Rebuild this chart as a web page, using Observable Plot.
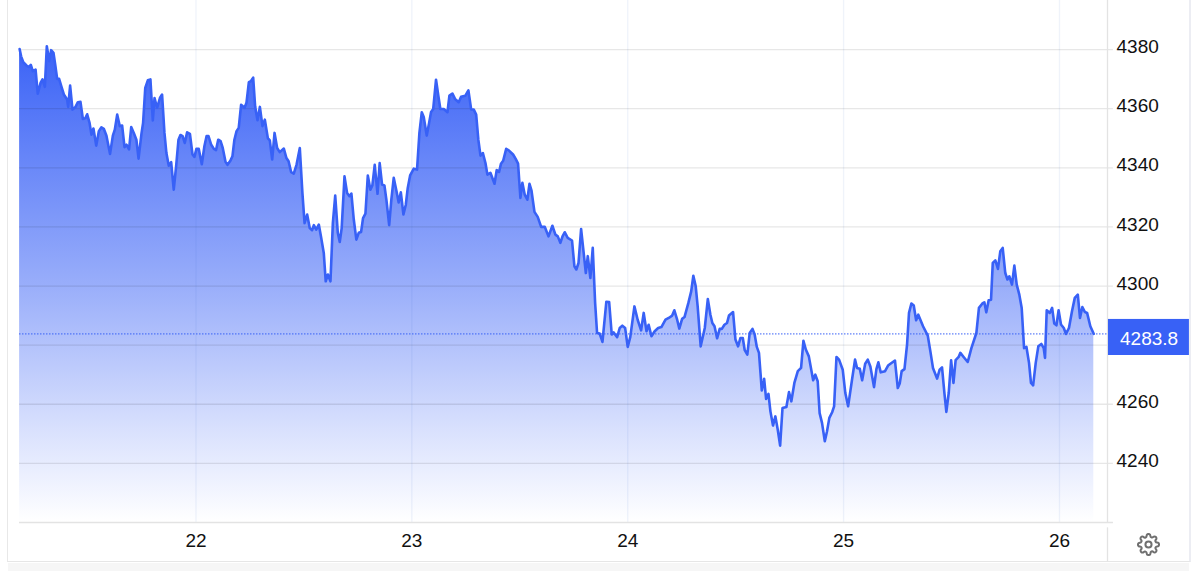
<!DOCTYPE html>
<html>
<head>
<meta charset="utf-8">
<script src="https://cdn.jsdelivr.net/npm/d3@7"></script>
<script src="https://cdn.jsdelivr.net/npm/@observablehq/plot@0.6"></script>
<style>
html,body{margin:0;padding:0;background:#fff;width:1200px;height:571px;overflow:hidden}
#frame{position:absolute;left:7px;top:0;width:1181px;height:561px;background:#fff;border-left:1.5px solid #e8e8e8;border-right:2px solid #ecedf3;border-bottom:1.5px solid #e6e6e6}
#band{position:absolute;left:8px;top:563px;width:1181px;height:8px;background:#f6f6f6}
#chart{position:absolute;left:0;top:0}
#gear{position:absolute;left:1137px;top:533px}
</style>
</head>
<body>
<div id="frame"></div>
<div id="band"></div>
<div id="chart"></div>
<svg id="gear" width="23" height="23" viewBox="0 0 24 24" fill="none" stroke="#6f6f6f" stroke-width="2.1" stroke-linecap="round" stroke-linejoin="round"><circle cx="12" cy="12" r="3.2"/><path d="M19.4 15a1.65 1.65 0 0 0 .33 1.82l.06.06a2 2 0 0 1 0 2.83 2 2 0 0 1-2.83 0l-.06-.06a1.65 1.65 0 0 0-1.82-.33 1.65 1.65 0 0 0-1 1.51V21a2 2 0 0 1-2 2 2 2 0 0 1-2-2v-.09A1.65 1.65 0 0 0 9 19.4a1.65 1.65 0 0 0-1.82.33l-.06.06a2 2 0 0 1-2.83 0 2 2 0 0 1 0-2.83l.06-.06a1.65 1.65 0 0 0 .33-1.82 1.65 1.65 0 0 0-1.51-1H3a2 2 0 0 1-2-2 2 2 0 0 1 2-2h.09A1.65 1.65 0 0 0 4.6 9a1.65 1.65 0 0 0-.33-1.82l-.06-.06a2 2 0 0 1 0-2.83 2 2 0 0 1 2.83 0l.06.06a1.65 1.65 0 0 0 1.82.33H9a1.65 1.65 0 0 0 1-1.51V3a2 2 0 0 1 2-2 2 2 0 0 1 2 2v.09a1.65 1.65 0 0 0 1 1.51 1.65 1.65 0 0 0 1.82-.33l.06-.06a2 2 0 0 1 2.83 0 2 2 0 0 1 0 2.83l-.06.06a1.65 1.65 0 0 0-.33 1.82V9a1.65 1.65 0 0 0 1.51 1H21a2 2 0 0 1 2 2 2 2 0 0 1-2 2h-.09a1.65 1.65 0 0 0-1.51 1z"/></svg>
<script>
const days = [
21.183,21.190,21.200,21.215,21.226,21.235,21.244,21.257,21.267,21.280,21.289,21.300,21.309,21.320,21.329,21.340,21.348,21.357,21.366,21.376,21.388,21.403,21.408,21.417,21.428,21.442,21.453,21.465,21.476,21.488,21.496,21.507,21.516,21.525,21.538,21.550,21.562,21.573,21.585,21.602,21.615,21.624,21.635,21.647,21.658,21.669,21.678,21.690,21.700,21.712,21.724,21.734,21.748,21.755,21.765,21.777,21.789,21.800,21.808,21.820,21.833,21.843,21.854,21.863,21.874,21.885,21.897,21.908,21.919,21.928,21.938,21.948,21.959,21.972,21.984,21.993,
22.002,22.013,22.027,22.039,22.049,22.058,22.070,22.083,22.093,22.103,22.114,22.124,22.137,22.146,22.160,22.169,22.178,22.188,22.198,22.209,22.225,22.234,22.245,22.254,22.265,22.274,22.285,22.296,22.308,22.319,22.333,22.342,22.353,22.364,22.376,22.388,22.407,22.419,22.429,22.441,22.453,22.466,22.481,
22.493,22.503,22.515,22.527,22.538,22.546,22.557,22.569,22.580,22.592,22.601,22.611,22.623,22.634,22.645,22.657,22.666,22.675,22.688,22.700,22.711,22.720,22.731,22.743,22.754,22.765,22.774,22.785,22.796,22.808,22.817,22.828,22.841,22.851,22.862,22.873,22.882,22.895,22.905,22.916,22.929,22.939,22.949,22.961,22.972,22.981,22.992,
23.009,23.024,23.035,23.046,23.055,23.069,23.080,23.089,23.099,23.112,23.123,23.132,23.148,23.165,23.174,23.188,23.200,23.217,23.228,23.248,23.262,23.275,23.287,23.298,23.308,23.318,23.329,23.341,23.350,23.364,23.383,23.393,23.404,23.413,23.423,23.437,23.449,23.469,23.481,23.492,23.503,23.512,23.523,23.535,23.545,23.554,23.568,23.583,23.599,23.616,23.633,23.651,23.665,23.676,23.688,23.698,23.708,23.722,23.742,23.753,23.762,23.772,23.784,23.796,23.806,23.815,23.827,23.838,
23.849,23.858,23.870,23.883,23.901,23.914,23.926,23.935,23.951,23.963,23.975,23.988,24.000,24.012,24.031,24.046,24.062,24.074,24.087,24.097,24.110,24.125,24.141,24.156,24.175,24.190,24.206,24.216,24.229,24.239,24.252,24.263,24.281,24.294,24.304,24.315,24.324,24.338,24.357,24.371,24.383,24.392,24.402,24.414,24.426,24.436,24.448,24.460,24.469,24.488,24.499,24.511,24.522,24.533,24.542,24.554,24.565,24.578,24.588,24.598,24.608,24.615,24.621,24.632,24.641,24.652,24.661,24.673,24.684,24.695,24.706,24.717,24.735,24.747,24.758,24.772,24.788,24.803,24.814,24.825,24.839,24.859,24.869,24.880,24.889,24.900,24.913,24.923,24.934,24.947,24.956,24.967,24.979,24.996,
25.008,25.021,25.039,25.053,25.062,25.075,25.086,25.100,25.112,25.124,25.141,25.152,25.161,25.172,25.192,25.206,25.217,25.238,25.251,25.260,25.269,25.282,25.294,25.303,25.314,25.325,25.336,25.346,25.368,25.390,25.402,25.414,25.433,25.445,25.456,25.467,25.476,25.487,25.498,25.509,25.519,25.533,25.541,25.556,25.575,25.592,25.615,25.627,25.643,25.652,25.661,25.672,25.683,25.691,25.703,25.715,25.726,25.737,25.749,25.759,25.768,25.780,25.791,25.802,25.814,25.825,25.836,25.847,25.859,25.868,25.878,25.890,25.902,25.916,25.927,25.933,25.941,25.955,25.966,25.976,25.986,25.996,
26.007,26.020,26.030,26.044,26.058,26.071,26.085,26.095,26.106,26.118,26.128,26.143,26.159];
const prices = [
4380.2,4377.7,4375.7,4374.6,4374.1,4374.8,4372.7,4373.2,4365.1,4368.7,4369.9,4367.4,4381.1,4376.1,4379.8,4378.9,4374.9,4370.1,4370.1,4367.6,4364.8,4363.1,4360.6,4367.8,4359.7,4360.6,4362.2,4362.3,4356.5,4356.8,4358.1,4355.2,4351.2,4353.3,4347.5,4352.4,4353.7,4353.2,4350.9,4344.7,4350.9,4352.9,4358.0,4354.1,4354.3,4347.0,4347.8,4346.2,4353.8,4351.8,4349.5,4343.1,4351.8,4355.2,4367.0,4369.6,4369.9,4356.0,4363.6,4360.3,4363.6,4364.8,4351.8,4345.0,4340.7,4341.9,4332.6,4340.5,4349.5,4351.1,4350.7,4348.4,4352.0,4351.5,4344.5,4343.7,
4346.4,4346.4,4341.2,4347.3,4350.7,4350.7,4347.9,4346.4,4346.0,4349.5,4349.0,4346.7,4342.0,4341.0,4342.5,4343.9,4349.5,4352.4,4353.5,4361.3,4360.3,4362.0,4369.0,4369.3,4370.5,4360.8,4356.1,4360.6,4354.1,4356.3,4350.0,4349.3,4342.8,4351.8,4346.7,4345.3,4346.5,4343.3,4342.2,4338.5,4338.0,4341.1,4346.7,
4331.5,4321.3,4324.2,4319.6,4318.9,4320.6,4319.1,4320.8,4316.3,4311.2,4301.6,4303.9,4301.6,4321.3,4330.6,4318.0,4314.9,4319.6,4337.1,4331.5,4330.4,4331.3,4322.5,4315.7,4318.0,4318.3,4323.0,4324.5,4337.4,4332.6,4334.0,4341.0,4331.2,4341.6,4334.3,4334.0,4329.2,4320.6,4329.2,4336.6,4332.1,4328.3,4331.7,4324.2,4327.5,4333.2,4337.4,
4339.7,4339.4,4351.8,4358.8,4357.2,4350.9,4355.2,4358.9,4359.9,4369.8,4364.2,4359.9,4359.9,4358.8,4364.4,4365.1,4363.3,4362.2,4364.0,4364.4,4366.2,4359.7,4359.7,4358.0,4349.5,4344.1,4345.0,4341.6,4337.7,4338.3,4334.6,4339.2,4338.6,4341.4,4342.4,4346.4,4345.9,4344.5,4343.0,4341.4,4329.8,4334.9,4330.9,4329.2,4334.6,4332.4,4325.1,4323.4,4320.0,4320.0,4316.8,4320.4,4317.4,4316.8,4314.6,4316.8,4318.2,4316.3,4315.4,4306.7,4305.6,4307.8,4319.3,4311.2,4304.4,4310.1,4302.7,4312.9,
4294.3,4284.1,4283.9,4281.1,4294.7,4294.6,4283.6,4284.3,4282.7,4285.8,4286.6,4285.8,4279.4,4282.8,4293.1,4288.6,4285.0,4290.9,4284.7,4286.9,4283.0,4284.7,4285.8,4286.1,4288.6,4289.2,4290.0,4291.8,4288.6,4285.6,4288.9,4289.5,4294.3,4298.2,4303.5,4299.9,4293.1,4279.6,4285.8,4295.6,4290.3,4287.5,4286.4,4282.3,4285.5,4285.5,4286.9,4287.5,4290.0,4291.2,4281.9,4279.6,4282.4,4282.4,4278.3,4276.8,4284.1,4285.5,4283.6,4279.4,4277.4,4270.6,4264.7,4268.6,4261.8,4263.5,4257.6,4252.8,4255.9,4251.4,4246.0,4258.7,4259.1,4264.1,4261.0,4267.2,4271.2,4272.3,4281.5,4278.5,4276.2,4268.1,4270.0,4267.8,4257.0,4253.7,4247.5,4250.8,4255.4,4257.3,4259.3,4276.0,4275.1,4271.7,
4263.8,4259.3,4268.3,4275.1,4272.3,4272.0,4268.1,4273.7,4275.1,4272.8,4265.8,4271.9,4274.2,4270.8,4271.2,4273.1,4273.7,4274.8,4265.5,4267.0,4271.2,4271.9,4280.2,4290.9,4294.1,4293.4,4288.4,4290.3,4286.4,4283.2,4277.9,4272.3,4268.7,4271.7,4272.5,4263.8,4257.4,4263.8,4274.9,4267.2,4274.9,4276.0,4277.4,4276.0,4274.3,4279.0,4284.1,4292.6,4294.1,4294.5,4291.1,4295.2,4295.4,4307.8,4308.7,4305.8,4311.8,4312.9,4304.4,4302.2,4303.3,4300.5,4306.9,4300.5,4297.1,4292.6,4279.0,4279.4,4274.0,4267.2,4266.4,4274.0,4279.6,4280.4,4279.0,4275.7,4291.8,4290.9,4292.6,4287.3,4286.7,4291.8,
4287.0,4285.8,4283.8,4285.8,4291.5,4296.0,4297.1,4289.2,4292.9,4291.2,4290.9,4286.4,4283.8];
const dayTicks = [22,23,24,25,26];
const gridPrices = [4240,4260,4280,4300,4320,4340,4360,4380];
const labelPrices = [4240,4260,4300,4320,4340,4360,4380];
const lastPrice = 4283.8;
const xDomain = [21.1825,26.2225];
const yDomain = [4220.0,4396.6];
const blue = "#3861f6";
const series = days.map((d,i)=>({day:d,price:prices[i]}));

const gradient = () => {
  const ns = "http://www.w3.org/2000/svg";
  const defs = document.createElementNS(ns,"defs");
  const g = document.createElementNS(ns,"linearGradient");
  g.setAttribute("id","fade");
  g.setAttribute("x1","0");g.setAttribute("y1","0");g.setAttribute("x2","0");g.setAttribute("y2","1");
  [[0,1],[0.5,0.52],[0.8,0.2],[1,0]].forEach(([o,a])=>{
    const s = document.createElementNS(ns,"stop");
    s.setAttribute("offset",o);
    s.setAttribute("stop-color","#3a62f6");
    s.setAttribute("stop-opacity",a);
    g.appendChild(s);
  });
  defs.appendChild(g);
  return defs;
};

const chart = Plot.plot({
  width:1200,height:571,
  marginLeft:19,marginRight:93,marginTop:0,marginBottom:49,
  style:{background:"transparent",fontFamily:"'Liberation Sans',Arial,sans-serif",fontSize:"19px",overflow:"visible"},
  x:{domain:xDomain,label:null},
  y:{domain:yDomain,label:null},
  marks:[
    gradient,
    Plot.areaY(series,{x:"day",y:"price",y1:yDomain[0],y2:"price",fill:"url(#fade)"}),
    Plot.ruleY(gridPrices,{x1:xDomain[0],x2:26.25,stroke:"#000",strokeOpacity:0.095,strokeWidth:1.3}),
    Plot.ruleX(dayTicks,{stroke:"#2a5aba",strokeOpacity:0.075,strokeWidth:1.3}),
    Plot.ruleY([yDomain[0]],{x1:xDomain[0],x2:26.25,stroke:"#e3e3e3",strokeWidth:1.3}),
    Plot.ruleX([xDomain[1]],{y1:yDomain[0],y2:yDomain[1],stroke:"#e3e3e3",strokeWidth:1.3}),
    Plot.ruleX([xDomain[1]],{y1:4218.2,y2:4206.7,stroke:"#e3e3e3",strokeWidth:1.3}),
    Plot.ruleY([lastPrice],{x1:xDomain[0],x2:xDomain[1],stroke:blue,strokeWidth:1,strokeDasharray:"1.5 1.5"}),
    Plot.lineY(series,{x:"day",y:"price",stroke:blue,strokeWidth:2.6,curve:"linear"}),
    Plot.rect([lastPrice],{x1:26.227,x2:26.602,y1:4276.5,y2:4288.7,fill:blue}),
    Plot.text([lastPrice],{x:26.415,y:d=>d,dy:5,text:d=>d.toFixed(1),fill:"#fff",fontSize:19,textAnchor:"middle"}),
    Plot.axisY(labelPrices,{anchor:"right",tickSize:0,tickPadding:9,dy:-2.5,fill:"#111",fontSize:19,label:null,tickFormat:d=>String(d)}),
    Plot.axisX(dayTicks,{anchor:"bottom",tickSize:0,tickPadding:11,fill:"#111",fontSize:19,label:null,tickFormat:d=>String(d)})
  ]
});
document.getElementById("chart").appendChild(chart);
</script>
</body>
</html>
